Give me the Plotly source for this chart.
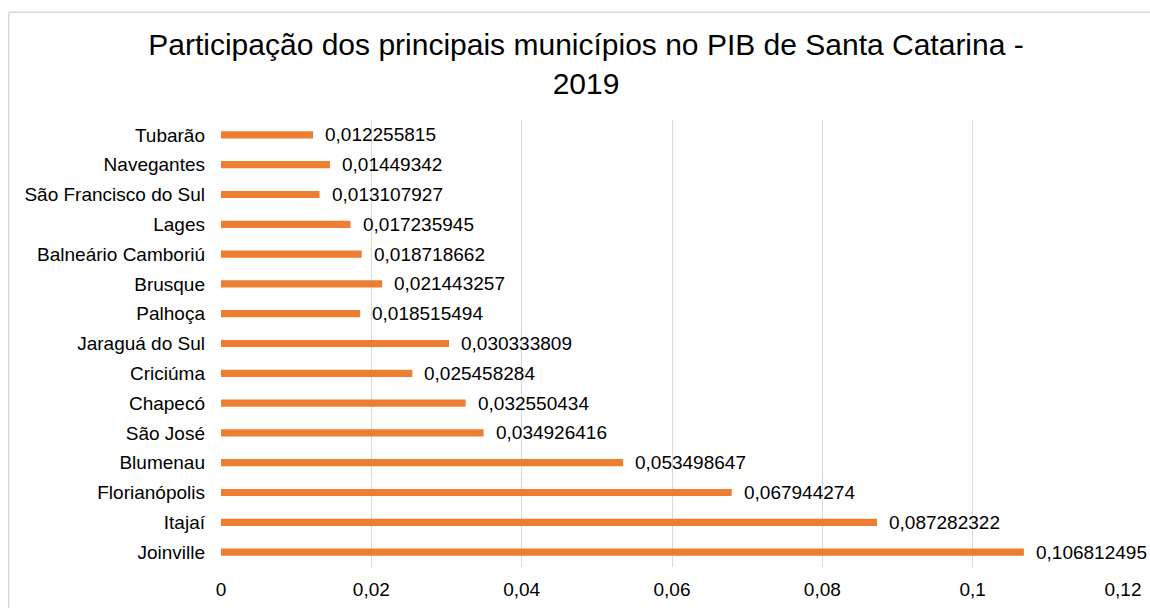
import plotly.graph_objects as go

categories = ["Tubarão", "Navegantes", "São Francisco do Sul", "Lages", "Balneário Camboriú",
              "Brusque", "Palhoça", "Jaraguá do Sul", "Criciúma", "Chapecó", "São José",
              "Blumenau", "Florianópolis", "Itajaí", "Joinville"]
values = [0.012255815, 0.01449342, 0.013107927, 0.017235945, 0.018718662,
          0.021443257, 0.018515494, 0.030333809, 0.025458284, 0.032550434, 0.034926416,
          0.053498647, 0.067944274, 0.087282322, 0.106812495]
tick_vals = [0, 0.02, 0.04, 0.06, 0.08, 0.1, 0.12]

labels = [str(v).replace(".", ",") for v in values]

W, H = 1150, 608
L, R, T, B = 221, 27, 120, 41
FONT = "Arial, Liberation Sans, sans-serif"

fig = go.Figure(go.Bar(
    x=values, y=categories, orientation="h",
    marker=dict(color="#ED7D31", line=dict(width=0)),
    width=0.24, cliponaxis=False, hoverinfo="x+y",
))

for v, c, lab in zip(values, categories, labels):
    fig.add_annotation(x=v, y=c, text=lab, showarrow=False, xanchor="left",
                       xshift=10, font=dict(family=FONT, size=19, color="#000000"))

# chart frame (top and left edges visible; right and bottom fall outside the picture)
pw, ph = W - L - R, H - T - B
fx0 = (8.75 - L) / pw
fx1 = (W - L) / pw
fy_top = (H - B - 12.25) / ph
fy_bot = (H - B - H) / ph
frame = dict(color="#D9D9D9", width=1.5)
fig.add_shape(type="line", xref="paper", yref="paper", x0=fx0, x1=fx1, y0=fy_top, y1=fy_top,
              line=frame, layer="below")
fig.add_shape(type="line", xref="paper", yref="paper", x0=fx0, x1=fx0, y0=fy_bot, y1=fy_top,
              line=frame, layer="below")

fig.update_layout(
    width=W, height=H,
    margin=dict(l=L, r=R, t=T, b=B, autoexpand=False),
    paper_bgcolor="white", plot_bgcolor="white",
    separators=",.",
    showlegend=False,
    font=dict(family=FONT, size=19, color="#000000"),
    title=dict(text="Participação dos principais municípios no PIB de Santa Catarina -<br>2019",
               x=586 / W, xanchor="center", xref="container",
               y=1 - 55 / H, yanchor="top", yref="container",
               font=dict(family=FONT, size=30, color="#000000")),
    xaxis=dict(range=[0, 0.12], tickvals=tick_vals, showgrid=True, gridcolor="#D9D9D9",
               gridwidth=1, zeroline=False, showline=False, ticks="", ticklabelstandoff=9,
               automargin=False,
               tickfont=dict(family=FONT, size=19, color="#000000")),
    yaxis=dict(autorange="reversed", showgrid=False, zeroline=False, showline=False,
               ticks="", ticklabelstandoff=15, automargin=False,
               tickfont=dict(family=FONT, size=19, color="#000000")),
)

fig.write_html(
    "out.html",
    config={"displayModeBar": False},
    post_script=("document.documentElement.style.margin='0';"
                 "document.body.style.margin='0';"
                 "document.body.style.overflow='hidden';"
                 "document.documentElement.style.overflow='hidden';"),
)
